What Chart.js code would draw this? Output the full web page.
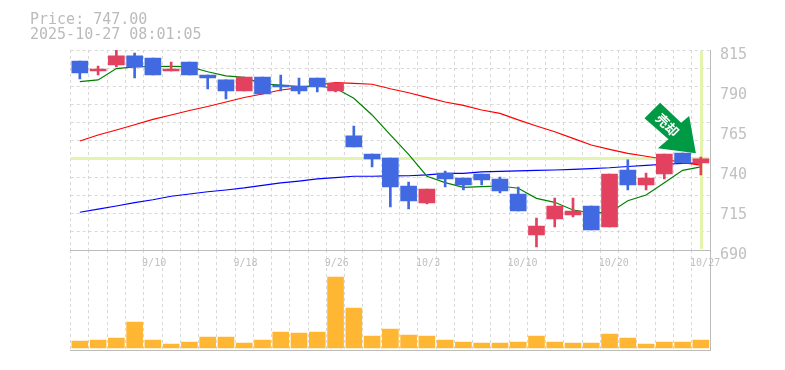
<!DOCTYPE html>
<html><head><meta charset="utf-8">
<script src="https://cdn.jsdelivr.net/npm/chart.js@4/dist/chart.umd.min.js"></script>
<style>
html,body{margin:0;padding:0;background:#fff;width:785px;height:370px;overflow:hidden}
canvas{position:absolute;left:0;top:0}
.h{position:absolute;left:30px;font:15px/15px "DejaVu Sans Mono",monospace;color:#bbbbbb;white-space:pre}
</style></head><body>
<canvas id="vol" width="785" height="370"></canvas>
<canvas id="price" width="785" height="370"></canvas>
<div class="h" style="top:12px">Price: 747.00</div>
<div class="h" style="top:27px">2025-10-27 08:01:05</div>
<script>
const dates=['9/4','9/5','9/8','9/9','9/10','9/11','9/12','9/16','9/17','9/18','9/19','9/22','9/24','9/25','9/26','9/29','9/30','10/1','10/2','10/3','10/6','10/7','10/8','10/9','10/10','10/14','10/15','10/16','10/17','10/20','10/21','10/22','10/23','10/24','10/27'];
const opens=[808.1,801.9,805.6,811.3,810,801.9,807.5,799.4,796.3,789.4,798.1,793.1,792.5,797.5,789.4,761.3,750,747.5,730,719.4,738.1,735,737.5,734.4,725,699.4,709.4,711.9,717.5,704.4,740,730.6,737.5,750.6,744.4];
const closes=[800.6,803.1,811.3,804.4,799.4,803.1,799.4,797.5,789.4,798.1,787.5,791.9,789.4,791.9,794.4,754.4,746.9,729.4,720.6,728.1,734.4,730.6,733.8,726.9,714.4,705,717.5,714.4,702.5,737.5,730.6,735,750,744.4,747];
const highs=[808.1,805,815,813.1,810,807.5,807.5,799.4,796.3,798.1,798.1,799.4,797.5,797.5,794.4,767.5,750,747.5,732.5,728.1,739.4,735,737.5,735.6,729.4,710,722.5,722.5,717.5,737.5,746.3,738.1,750,750.6,748.1];
const lows=[796.9,799.4,804.4,797.5,799.4,801.9,799.4,790.6,784.4,789.4,787.5,789.4,787.5,788.8,788.8,754.4,741.9,716.9,715.6,718.8,729.4,727.5,730.6,725.6,714.4,691.9,704.4,710.6,702.5,704.4,727.5,727.5,734.4,744.4,736.9];
const maShort=[795.2,796.3,803.4,804.4,804.7,804.8,804.6,801.4,798.8,797.9,793.8,793.1,792.1,792.5,791.1,784.8,774.4,761.9,749.8,736.1,732.1,729.2,729.6,730,728.6,722.3,719.8,715,713.3,713.3,720.8,724.4,732.1,739.8,741.9];
const maMid=[758.1,761.9,765,768.3,771.6,774.4,777.2,779.7,782.5,785.3,787.5,790,791.3,793.1,794.6,794.2,793.6,790.8,788.3,785.4,782.5,780.4,777.5,775.4,771.3,767.5,763.9,759.8,755.6,752.9,750.4,748.6,746.7,744.6,743.1];
const maLong=[713.6,715.6,717.5,719.6,721.4,723.6,725,726.4,727.5,728.8,730.4,731.9,733.1,734.4,735.2,736.1,736.1,736.3,736.4,736.9,737.9,737.9,738.8,739.2,739.4,739.8,740,740.4,740.9,741.4,742.2,742.9,743.6,744.2,744.4];
const volumes=[7,8,10,26,8,4,6,11,11,5,8,16,15,16,71,40,12,19,13,12,8,6,5,5,6,12,6,5,5,14,10,4,6,6,8];
const signalText='売却';

const UP='#e2415f',DOWN='#4169e1',GRID='#d8d8d8',AXIS='#bbbbbb',TXT='#c0c0c0',HL='#e3f5ad';
const candleColor=closes.map((c,i)=>c>=opens[i]?UP:DOWN);
const mono='"DejaVu Sans Mono", monospace';

const overlay={id:'overlay',
 beforeDatasetsDraw(ch){
  const {ctx,chartArea:a,scales:{x,y}}=ch;
  const last=dates.length-1,px=x.getPixelForValue(last),py=y.getPixelForValue(closes[last]);
  ctx.save();ctx.fillStyle=HL;
  ctx.fillRect(a.left,Math.round(py)-2,a.right-a.left-1,3);
  ctx.fillRect(Math.round(px)-1,a.top+1,3,a.bottom-a.top-2);
  ctx.restore();
 },
 afterDatasetsDraw(ch){
  const {ctx,scales:{x,y}}=ch;
  const last=dates.length-1;
  const tx=x.getPixelForValue(last)-5,ty=y.getPixelForValue(closes[last])-5.5;
  const outline=[[0,0],[-38,-5],[-27.4,-14],[-51.4,-35],[-35.7,-50.6],[-14.7,-30.6],[-6.7,-37.3]];
  ctx.save();ctx.fillStyle='#009a44';ctx.beginPath();
  outline.forEach((p,i)=>i?ctx.lineTo(tx+p[0],ty+p[1]):ctx.moveTo(tx+p[0],ty+p[1]));
  ctx.closePath();ctx.fill();
  ctx.translate(tx-28.4,ty-28.3);ctx.rotate(Math.PI/4);
  ctx.fillStyle='#fff';ctx.font='bold 13px "Noto Sans CJK JP"';ctx.textAlign='center';ctx.textBaseline='middle';
  ctx.fillText(signalText,0,0);
  ctx.restore();
 }};

new Chart(document.getElementById('price'),{
 type:'bar',
 data:{labels:dates,datasets:[
  {type:'bar',data:opens.map((o,i)=>[o,closes[i]]),backgroundColor:candleColor,barThickness:16,grouped:false,order:1,yAxisID:'y'},
  {type:'bar',data:lows.map((l,i)=>[l,highs[i]]),backgroundColor:candleColor,barThickness:2,grouped:false,order:2,yAxisID:'y'},
  {type:'line',data:maShort,borderColor:'#008000',borderWidth:1.2,pointRadius:0,tension:0,order:3,yAxisID:'y'},
  {type:'line',data:maMid,borderColor:'#ff0000',borderWidth:1.2,pointRadius:0,tension:0,order:4,yAxisID:'y'},
  {type:'line',data:maLong,borderColor:'#0000ff',borderWidth:1.2,pointRadius:0,tension:0,order:5,yAxisID:'y'}
 ]},
 options:{responsive:false,animation:false,devicePixelRatio:1,
  layout:{padding:{left:70.7,top:50,right:0,bottom:0}},
  plugins:{legend:{display:false},tooltip:{enabled:false}},
  scales:{
   x:{offset:true,
    grid:{color:GRID,offset:true,drawTicks:false,lineWidth:1},
    border:{color:AXIS,dash:[3,3]},
    afterFit(s){s.height=120;},
    ticks:{autoSkip:false,maxRotation:0,minRotation:0,align:'start',labelOffset:-10.8,padding:7,color:'#c0c0c0',font:{family:mono,size:10},
     callback(v,i){return i%5===4?dates[i]:'';}}},
   y:{position:'right',min:690,max:815,
    grid:{display:false},border:{display:true,color:AXIS},
    afterFit(s){s.width=75;},
    ticks:{stepSize:25,padding:2,labelOffset:5,color:TXT,font:{family:mono,size:15}}},
   yGrid:{axis:'y',position:'right',min:690,max:815,
    grid:{color:GRID,drawTicks:false},border:{display:false,dash:[3,3]},
    afterFit(s){s.width=0;},
    ticks:{count:12,display:false}}
  }},
 plugins:[overlay]});

new Chart(document.getElementById('vol'),{
 type:'bar',
 data:{labels:dates,datasets:[{data:volumes,backgroundColor:'#ffb733',barThickness:16}]},
 options:{responsive:false,animation:false,devicePixelRatio:1,
  layout:{padding:{left:70.7,top:250,right:0,bottom:0}},
  plugins:{legend:{display:false},tooltip:{enabled:false}},
  scales:{
   x:{offset:true,grid:{color:GRID,offset:true,drawTicks:false},border:{color:AXIS,dash:[3,3]},
    afterFit(s){s.height=20;},ticks:{display:false}},
   y:{position:'right',min:-2,max:98,grid:{display:false},border:{display:true,color:AXIS},
    afterFit(s){s.width=75;},ticks:{display:false}}
  }}});
</script></body></html>
